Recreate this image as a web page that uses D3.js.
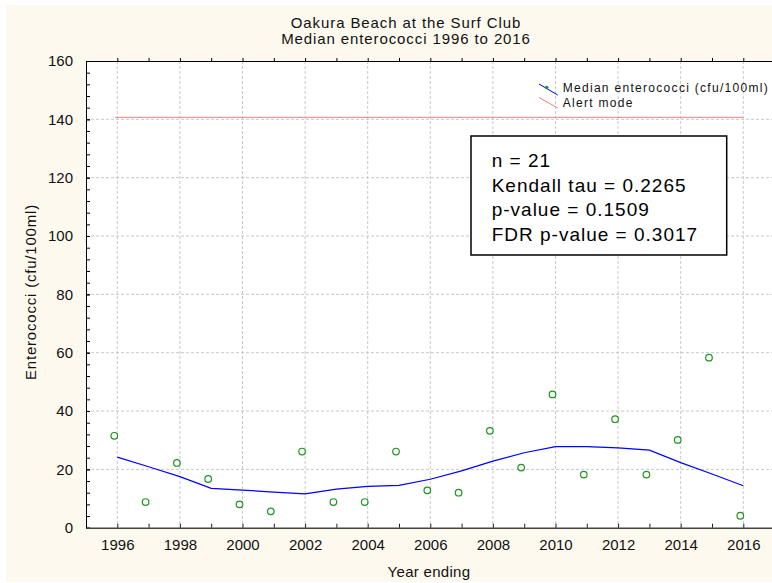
<!DOCTYPE html>
<html>
<head>
<meta charset="utf-8">
<script src="https://cdn.jsdelivr.net/npm/d3@7"></script>
<style>
body { margin: 0; background: #fff; }
svg { display: block; font-family: "Liberation Sans", Arial, sans-serif; }
</style>
</head>
<body>
<svg id="chart" width="772" height="583"></svg>
<script>
var years = [1996, 1997, 1998, 1999, 2000, 2001, 2002, 2003, 2004, 2005, 2006,
             2007, 2008, 2009, 2010, 2011, 2012, 2013, 2014, 2015, 2016];
var enterococci = [31.5, 8.8, 22.2, 16.7, 8.0, 5.6, 26.1, 8.8, 8.8, 26.1, 12.8,
                   12.0, 33.2, 20.6, 45.7, 18.2, 37.2, 18.2, 30.1, 58.3, 4.1];
var smoothed = [24.2, 20.9, 17.5, 13.5, 12.9, 12.2, 11.6, 13.2, 14.2, 14.5, 16.6,
                19.5, 22.8, 25.7, 27.8, 27.8, 27.4, 26.6, 22.3, 18.4, 14.4];
var alertLevel = 140;
var yTicks = [0, 20, 40, 60, 80, 100, 120, 140, 160];
var xTickLabels = [1996, 1998, 2000, 2002, 2004, 2006, 2008, 2010, 2012, 2014, 2016];
var titleLines = ["Oakura Beach at the Surf Club", "Median enterococci 1996 to 2016"];
var statsLines = ["n = 21", "Kendall tau = 0.2265", "p-value = 0.1509", "FDR p-value = 0.3017"];
var legendLabels = ["Median enterococci (cfu/100ml)", "Alert mode"];

var svg = d3.select("svg#chart"),
    width = +svg.attr("width"),
    height = +svg.attr("height");

var plotLeft = 86, plotTop = 61, plotBottom = 527.7, plotRight = 774.6;

var x = d3.scaleLinear().domain([1995, 2017]).range([plotLeft, plotRight]);
var y = d3.scaleLinear().domain([0, 160]).range([plotBottom, plotTop]);

// cream frame + white plot area
svg.append("rect")
    .attr("x", 6).attr("y", 5)
    .attr("width", width - 6).attr("height", height - 6)
    .attr("fill", "#fdf9ef");
svg.append("rect")
    .attr("x", plotLeft).attr("y", plotTop)
    .attr("width", plotRight - plotLeft).attr("height", plotBottom - plotTop)
    .attr("fill", "#fff");

// grid
svg.append("g").selectAll("line")
    .data(yTicks.filter(function(d) { return d > 0 && d < 160; }))
    .enter().append("line")
      .attr("x1", plotLeft).attr("x2", width)
      .attr("y1", function(d) { return y(d); })
      .attr("y2", function(d) { return y(d); })
      .attr("stroke", "#c8c8c8")
      .attr("stroke-dasharray", "3,2");
svg.append("g").selectAll("line")
    .data(xTickLabels)
    .enter().append("line")
      .attr("x1", function(d) { return x(d); })
      .attr("x2", function(d) { return x(d); })
      .attr("y1", plotTop).attr("y2", plotBottom)
      .attr("stroke", "#c8c8c8")
      .attr("stroke-dasharray", "3,2");

// left axis
var minor = d3.range(0, 161, 4);
svg.append("g")
    .attr("transform", "translate(" + plotLeft + ",0)")
    .call(d3.axisLeft(y).tickValues(minor).tickSizeInner(-4).tickSizeOuter(0).tickFormat(""))
    .call(function(g) { g.selectAll("line,path").attr("stroke", "#000"); });
svg.append("g")
    .attr("transform", "translate(" + plotLeft + ",0)")
    .call(d3.axisLeft(y).tickValues(yTicks).tickSizeInner(-4).tickSizeOuter(0).tickPadding(13))
    .call(function(g) {
      g.select(".domain").remove();
      g.selectAll("line").attr("stroke", "#000");
      g.selectAll("text").attr("font-size", 15).attr("fill", "#111")
          .attr("font-family", "Liberation Sans, Arial, sans-serif");
    });

// bottom axis
svg.append("g")
    .attr("transform", "translate(0," + plotBottom + ")")
    .call(d3.axisBottom(x).tickValues(years).tickSizeInner(-4).tickSizeOuter(0).tickPadding(11.5)
      .tickFormat(function(d) { return xTickLabels.indexOf(d) >= 0 ? d : ""; }))
    .call(function(g) {
      g.select(".domain").attr("stroke", "#444").attr("stroke-width", 1.6);
      g.selectAll("line").attr("stroke", "#222");
      g.selectAll("text").attr("font-size", 15).attr("fill", "#111")
          .attr("font-family", "Liberation Sans, Arial, sans-serif");
    });

// top border
svg.append("g")
    .attr("transform", "translate(0," + plotTop + ")")
    .call(d3.axisTop(x).tickValues(years).tickSizeInner(3).tickSizeOuter(0).tickFormat(""))
    .call(function(g) { g.selectAll("line,path").attr("stroke", "#000"); });

// alert line
svg.append("line")
    .attr("x1", x(years[0]) - 2).attr("x2", x(years[years.length - 1]))
    .attr("y1", y(alertLevel) - 2).attr("y2", y(alertLevel) - 2)
    .attr("stroke", "#f08080");

// smoothed median
svg.append("path")
    .datum(years)
    .attr("fill", "none")
    .attr("stroke", "#0000ff")
    .attr("stroke-width", 1.2)
    .attr("d", d3.line()
      .x(function(d) { return x(d); })
      .y(function(d, i) { return y(smoothed[i]); }));

// points
svg.append("g").selectAll("circle")
    .data(years)
    .enter().append("circle")
      .attr("cx", function(d) { return x(d) - 3; })
      .attr("cy", function(d, i) { return y(enterococci[i]); })
      .attr("r", 3.3)
      .attr("fill", "none")
      .attr("stroke", "#1f951f")
      .attr("stroke-width", 1.2);

// title
svg.append("g").selectAll("text")
    .data(titleLines)
    .enter().append("text")
      .attr("x", 406)
      .attr("y", function(d, i) { return 28 + i * 15.5; })
      .attr("text-anchor", "middle")
      .attr("font-size", 15)
      .attr("letter-spacing", 0.9)
      .attr("fill", "#111")
      .text(function(d) { return d; });

// axis titles
svg.append("text")
    .attr("x", (plotLeft + 772) / 2).attr("y", 577)
    .attr("text-anchor", "middle")
    .attr("font-size", 15)
    .attr("letter-spacing", 0.3)
    .attr("fill", "#111")
    .text("Year ending");
svg.append("text")
    .attr("transform", "translate(36,292) rotate(-90)")
    .attr("text-anchor", "middle")
    .attr("font-size", 15)
    .attr("letter-spacing", 0.8)
    .attr("fill", "#111")
    .text("Enterococci (cfu/100ml)");

// legend
var legend = svg.append("g");
legend.append("line")
    .attr("x1", 539).attr("y1", 84).attr("x2", 557.7).attr("y2", 95)
    .attr("stroke", "#0000ff");
legend.append("circle")
    .attr("cx", 546.7).attr("cy", 87.5).attr("r", 1.8)
    .attr("fill", "#1f951f");
legend.append("line")
    .attr("x1", 539).attr("y1", 97.5).attr("x2", 557.7).attr("y2", 108)
    .attr("stroke", "#f08080");
legend.selectAll("text")
    .data(legendLabels)
    .enter().append("text")
      .attr("x", 562.7)
      .attr("y", function(d, i) { return 92 + i * 14.5; })
      .attr("font-size", 12)
      .attr("letter-spacing", 1.3)
      .attr("fill", "#111")
      .text(function(d) { return d; });

// stats box
var stats = svg.append("g");
stats.append("rect")
    .attr("x", 471).attr("y", 136)
    .attr("width", 255.7).attr("height", 119)
    .attr("fill", "#fff")
    .attr("stroke", "#000")
    .attr("stroke-width", 1.5);
stats.selectAll("text")
    .data(statsLines)
    .enter().append("text")
      .attr("x", 491.7)
      .attr("y", function(d, i) { return 167 + i * 24.5; })
      .attr("font-size", 19)
      .attr("letter-spacing", 1)
      .attr("fill", "#000")
      .text(function(d) { return d; });
</script>
</body>
</html>
